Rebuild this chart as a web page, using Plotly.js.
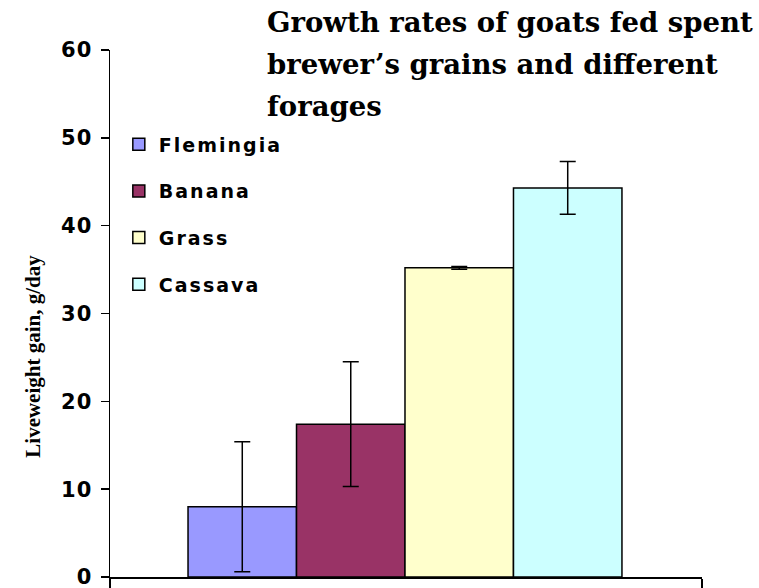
<!DOCTYPE html>
<html><head><meta charset="utf-8">
<script src="https://cdn.plot.ly/plotly-3.0.1.min.js"></script>
<style>body{margin:0;background:#fff}#chart{width:759px;height:588px}
.legendtext{letter-spacing:2px}
.ytick text{letter-spacing:1px}</style>
</head><body><div id="chart"></div>
<script>
const seriesNames = ["Flemingia", "Banana", "Grass", "Cassava"];
const gains = [8.0, 17.4, 35.2, 44.3];
const errors = [7.4, 7.1, 0.15, 3.0];
const colors = ["#9999FF", "#993366", "#FFFFCC", "#CCFFFF"];
const yTicks = [0, 10, 20, 30, 40, 50, 60];
const titleLines = ["Growth rates of goats fed spent", "brewer\u2019s grains and different", "forages"];
const yTitle = "Liveweight gain, g/day";

const traces = seriesNames.map((n, i) => ({
  type: "bar", name: n, x: [0], y: [gains[i]], legendgroup: n,
  marker: {color: colors[i], line: {color: "#000", width: 1.5}},
  error_y: {type: "data", array: [errors[i]], visible: true, color: "#000", thickness: 1.5, width: 8},
  hoverinfo: "name+y"
}));

const titleFont = {family: "DejaVu Serif", size: 27.5, color: "#000", weight: "bold"};
const titleY = [1.053, 0.973, 0.894];
const annotations = titleLines.map((t, i) => ({
  text: t, xref: "paper", yref: "paper", x: 0.2618, y: titleY[i],
  xanchor: "left", yanchor: "middle", showarrow: false, font: titleFont
}));
annotations.push({
  text: yTitle, xref: "paper", yref: "paper", x: (33 - 110) / 592, y: 0.418,
  xanchor: "center", yanchor: "middle", textangle: -90, showarrow: false,
  font: {family: "Liberation Serif, Times New Roman", size: 21, color: "#000", weight: "bold"}
});

const layout = {
  width: 759, height: 588,
  margin: {l: 110, r: 57, t: 50, b: 11},
  paper_bgcolor: "#fff", plot_bgcolor: "#fff",
  barmode: "group", bargap: 0.267, bargroupgap: 0,
  showlegend: true,
  annotations: annotations,
  legend: {x: 0.0149, y: 0.857, xanchor: "left", yanchor: "top", bgcolor: "rgba(0,0,0,0)",
    font: {family: "DejaVu Sans", size: 19, color: "#000", weight: "bold"},
    tracegroupgap: 19, traceorder: "grouped"},
  xaxis: {range: [-0.4983, 0.5017], showgrid: false, zeroline: false, showline: true,
    linecolor: "#000", linewidth: 1.5, tickvals: [-0.4983, 0.5017], ticks: "outside", ticklen: 11,
    tickcolor: "#000", tickwidth: 1.5, showticklabels: false, fixedrange: true},
  yaxis: {range: [0, 60], tickvals: yTicks, ticks: "outside", ticklen: 8, tickwidth: 1.5,
    tickcolor: "#000", showline: true, linecolor: "#000", linewidth: 1.5, showgrid: false,
    zeroline: false, ticklabelstandoff: 4, ticklabeloverflow: "allow",
    tickfont: {family: "DejaVu Sans", size: 21, color: "#000", weight: "bold"}}
};
Plotly.newPlot("chart", traces, layout, {displayModeBar: false, staticPlot: true});
</script></body></html>
